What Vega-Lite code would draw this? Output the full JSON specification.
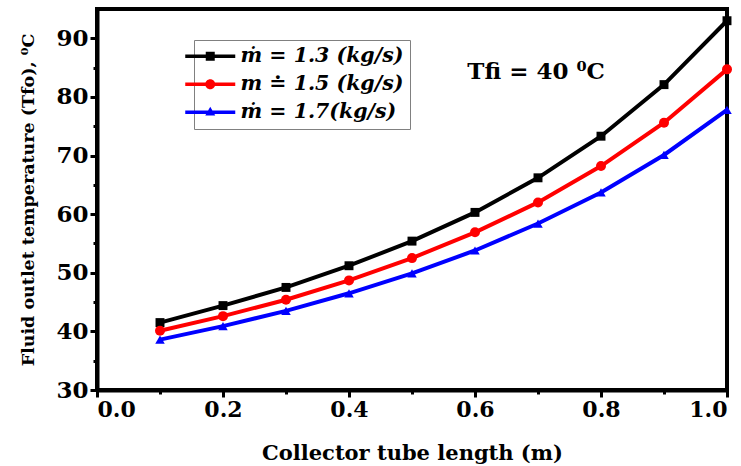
{
  "$schema": "https://vega.github.io/schema/vega-lite/v6.json",
  "autosize": "none",
  "width": 630,
  "height": 381,
  "padding": {"left": 97, "top": 9, "right": 14, "bottom": 76},
  "background": "white",
  "data": {"values": [
    {"L": 0.1, "T": 41.5, "s": "ṁ = 1.3 (kg/s)"},
    {"L": 0.2, "T": 44.4, "s": "ṁ = 1.3 (kg/s)"},
    {"L": 0.3, "T": 47.5, "s": "ṁ = 1.3 (kg/s)"},
    {"L": 0.4, "T": 51.2, "s": "ṁ = 1.3 (kg/s)"},
    {"L": 0.5, "T": 55.4, "s": "ṁ = 1.3 (kg/s)"},
    {"L": 0.6, "T": 60.3, "s": "ṁ = 1.3 (kg/s)"},
    {"L": 0.7, "T": 66.2, "s": "ṁ = 1.3 (kg/s)"},
    {"L": 0.8, "T": 73.3, "s": "ṁ = 1.3 (kg/s)"},
    {"L": 0.9, "T": 82.1, "s": "ṁ = 1.3 (kg/s)"},
    {"L": 1.0, "T": 93.0, "s": "ṁ = 1.3 (kg/s)"},
    {"L": 0.1, "T": 40.1, "s": "m ≐ 1.5 (kg/s)"},
    {"L": 0.2, "T": 42.6, "s": "m ≐ 1.5 (kg/s)"},
    {"L": 0.3, "T": 45.4, "s": "m ≐ 1.5 (kg/s)"},
    {"L": 0.4, "T": 48.7, "s": "m ≐ 1.5 (kg/s)"},
    {"L": 0.5, "T": 52.5, "s": "m ≐ 1.5 (kg/s)"},
    {"L": 0.6, "T": 56.9, "s": "m ≐ 1.5 (kg/s)"},
    {"L": 0.7, "T": 62.0, "s": "m ≐ 1.5 (kg/s)"},
    {"L": 0.8, "T": 68.2, "s": "m ≐ 1.5 (kg/s)"},
    {"L": 0.9, "T": 75.6, "s": "m ≐ 1.5 (kg/s)"},
    {"L": 1.0, "T": 84.7, "s": "m ≐ 1.5 (kg/s)"},
    {"L": 0.1, "T": 38.6, "s": "ṁ = 1.7(kg/s)"},
    {"L": 0.2, "T": 40.9, "s": "ṁ = 1.7(kg/s)"},
    {"L": 0.3, "T": 43.5, "s": "ṁ = 1.7(kg/s)"},
    {"L": 0.4, "T": 46.5, "s": "ṁ = 1.7(kg/s)"},
    {"L": 0.5, "T": 49.9, "s": "ṁ = 1.7(kg/s)"},
    {"L": 0.6, "T": 53.8, "s": "ṁ = 1.7(kg/s)"},
    {"L": 0.7, "T": 58.4, "s": "ṁ = 1.7(kg/s)"},
    {"L": 0.8, "T": 63.7, "s": "ṁ = 1.7(kg/s)"},
    {"L": 0.9, "T": 70.1, "s": "ṁ = 1.7(kg/s)"},
    {"L": 1.0, "T": 77.8, "s": "ṁ = 1.7(kg/s)"}
  ]},
  "encoding": {
    "x": {
      "field": "L", "type": "quantitative",
      "scale": {"domain": [0, 1], "nice": false, "zero": false},
      "axis": {
        "title": "Collector tube length (m)",
        "values": [0, 0.1, 0.2, 0.3, 0.4, 0.5, 0.6, 0.7, 0.8, 0.9, 1.0],
        "labelExpr": "round(datum.value*10) % 2 === 0 ? format(datum.value, '.1f') : ''",
        "tickSize": {"condition": {"test": "round(datum.value*10) % 2 === 0", "value": 7}, "value": 4},
        "labelPadding": 2,
        "titlePadding": 22,
        "labelFontSize": 22,
        "titleFontSize": 21
      }
    },
    "y": {
      "field": "T", "type": "quantitative",
      "scale": {"domain": [30, 95], "nice": false, "zero": false},
      "axis": {
        "title": "Fluid outlet temperature (Tfo), ⁰C",
        "values": [30, 35, 40, 45, 50, 55, 60, 65, 70, 75, 80, 85, 90],
        "labelExpr": "datum.value % 10 === 0 ? datum.label : ''",
        "tickSize": {"condition": {"test": "datum.value % 10 === 0", "value": 7}, "value": 4},
        "labelPadding": 2,
        "titlePadding": 18,
        "labelFontSize": 23,
        "titleFontSize": 17.5
      }
    }
  },
  "layer": [
    {
      "mark": {"type": "line", "strokeWidth": 4},
      "encoding": {
        "color": {
          "field": "s", "type": "nominal",
          "scale": {"domain": ["ṁ = 1.3 (kg/s)", "m ≐ 1.5 (kg/s)", "ṁ = 1.7(kg/s)"], "range": ["#000000", "#ff0000", "#0000ff"]}
        }
      }
    },
    {
      "transform": [{"filter": "datum.s === 'ṁ = 1.3 (kg/s)'"}],
      "mark": {"type": "point", "shape": "square", "filled": true, "size": 80, "color": "#000000", "opacity": 1}
    },
    {
      "transform": [{"filter": "datum.s === 'm ≐ 1.5 (kg/s)'"}],
      "mark": {"type": "point", "shape": "circle", "filled": true, "size": 100, "color": "#ff0000", "opacity": 1}
    },
    {
      "transform": [{"filter": "datum.s === 'ṁ = 1.7(kg/s)'"}],
      "mark": {"type": "point", "shape": "triangle-up", "filled": true, "size": 90, "color": "#0000ff", "opacity": 1}
    },
    {
      "mark": {"type": "point", "filled": true, "opacity": 0},
      "encoding": {
        "shape": {
          "field": "s", "type": "nominal",
          "scale": {
            "domain": ["ṁ = 1.3 (kg/s)", "m ≐ 1.5 (kg/s)", "ṁ = 1.7(kg/s)"],
            "range": [
              "M-2.5,-0.18H2.5V0.18H-2.5Z M-0.45,-0.45H0.45V0.45H-0.45Z",
              "M-2.5,-0.18H2.5V0.18H-2.5Z M-0.5,0A0.5,0.5 0 1,1 0.5,0A0.5,0.5 0 1,1 -0.5,0Z",
              "M-2.5,-0.18H2.5V0.18H-2.5Z M0,-0.55L0.5,0.32L-0.5,0.32Z"
            ]
          }
        },
        "color": {"field": "s", "type": "nominal"}
      }
    },
    {
      "transform": [{"filter": "datum.L === 0.1 && datum.T === 41.5"}],
      "mark": {"type": "text", "text": "Tfi = 40 ⁰C", "font": "DejaVu Serif", "fontSize": 23, "fontWeight": "bold", "align": "center", "baseline": "middle", "color": "#000000"},
      "encoding": {
        "x": {"datum": 0.697},
        "y": {"datum": 84.2}
      }
    }
  ],
  "config": {
    "view": {"stroke": "#000000", "strokeWidth": 4},
    "legend": {
      "title": null,
      "orient": "none",
      "legendX": 97,
      "legendY": 31,
      "symbolSize": 400,
      "symbolStrokeWidth": 0,
      "symbolOpacity": 1,
      "labelFont": "DejaVu Serif",
      "labelFontSize": 20.5,
      "labelFontWeight": "bold",
      "labelFontStyle": "italic",
      "labelColor": "#000000",
      "labelLimit": 400,
      "labelOffset": 20,
      "rowPadding": 7,
      "padding": 6,
      "strokeColor": "#808080",
      "fillColor": "white"
    },
    "axis": {
      "domainColor": "#000000",
      "domainWidth": 4,
      "tickColor": "#000000",
      "tickWidth": 3,
      "grid": false,
      "labelFont": "DejaVu Serif",
      "labelFontWeight": "bold",
      "labelColor": "#000000",
      "titleFont": "DejaVu Serif",
      "titleFontWeight": "bold",
      "titleColor": "#000000"
    }
  }
}
